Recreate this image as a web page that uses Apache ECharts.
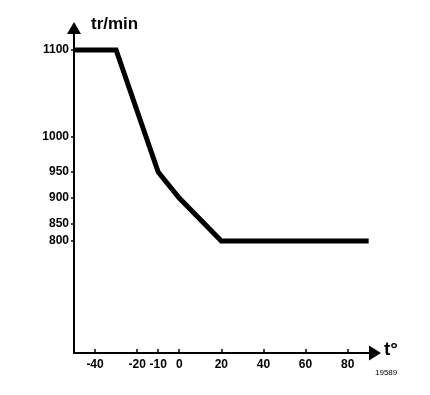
<!DOCTYPE html>
<html><head><meta charset="utf-8">
<script src="https://cdn.jsdelivr.net/npm/echarts@6/dist/echarts.min.js"></script>
<style>html,body{margin:0;padding:0;background:#fff}#c{width:430px;height:395px}</style>
</head><body><div id="c"></div>
<script>
// Data
const temps = [-50, -30, -10, 0, 20, 90];          // t°
const speeds = [1100, 1100, 950, 900, 800, 800];   // tr/min
const xTicks = [-40, -20, -10, 0, 20, 40, 60, 80];
const yTicks = [800, 850, 900, 950, 1000, 1100];

// Schematic (non-linear) y scale used by the original drawing:
// axis position (display units) for each y tick value
const yTickPos = [112, 129, 155, 181, 216, 303];
function yScale(v) {
  for (let i = 0; i < yTicks.length - 1; i++) {
    if (v <= yTicks[i + 1] || i === yTicks.length - 2) {
      const f = (v - yTicks[i]) / (yTicks[i + 1] - yTicks[i]);
      return yTickPos[i] + f * (yTickPos[i + 1] - yTickPos[i]);
    }
  }
}
function yLabel(p) {
  const i = yTickPos.indexOf(p);
  return i >= 0 ? String(yTicks[i]) : '';
}

const FONT = 'Liberation Sans';
const chart = echarts.init(document.getElementById('c'), null, {renderer: 'canvas'});
chart.setOption({
  animation: false,
  backgroundColor: '#fff',
  grid: {left: 74, right: 55, top: 28, bottom: 42, containLabel: false},
  xAxis: {
    type: 'value', min: -50, max: 93,
    axisLine: {show: true, onZero: false, symbol: ['none', 'triangle'], symbolSize: [15, 12],
      lineStyle: {color: '#000', width: 2}},
    axisTick: {show: true, inside: true, length: 4, customValues: xTicks,
      lineStyle: {color: '#000', width: 1.5}},
    axisLabel: {customValues: xTicks, margin: 6, color: '#000',
      fontFamily: FONT, fontWeight: 'bold', fontSize: 12},
    splitLine: {show: false}
  },
  yAxis: {
    type: 'value', min: 0, max: 325,
    axisLine: {show: true, onZero: false, symbol: ['none', 'triangle'], symbolSize: [14, 12],
      lineStyle: {color: '#000', width: 2}},
    axisTick: {show: true, inside: false, length: 3, customValues: yTickPos,
      lineStyle: {color: '#000', width: 1.5}},
    axisLabel: {customValues: yTickPos, formatter: yLabel, margin: 5, color: '#000',
      fontFamily: FONT, fontWeight: 'bold', fontSize: 12},
    splitLine: {show: false}
  },
  series: [{
    type: 'line',
    data: temps.map((t, i) => [t, yScale(speeds[i])]),
    symbol: 'none',
    lineStyle: {color: '#000', width: 5, join: 'miter', cap: 'butt'}
  }],
  graphic: [
    {type: 'text', left: 91, top: 16, style: {text: 'tr/min', fontFamily: FONT,
      fontWeight: 'bold', fontSize: 17, fill: '#000'}},
    {type: 'text', left: 384, top: 340, style: {text: 't°', fontFamily: FONT,
      fontWeight: 'bold', fontSize: 19, fill: '#000'}},
    {type: 'text', left: 375, top: 369, style: {text: '19589', fontFamily: FONT,
      fontSize: 8, fill: '#000'}}
  ]
});
</script>
</body></html>
